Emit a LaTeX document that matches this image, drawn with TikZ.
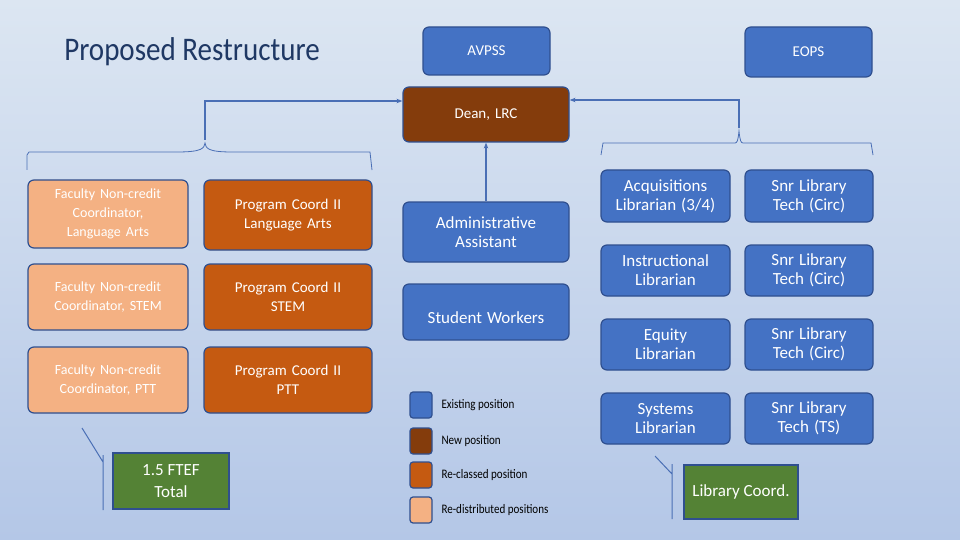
\documentclass[tikz,border=0pt]{standalone}
\usepackage{fontspec}
\setmainfont{Carlito}
\usetikzlibrary{arrows.meta}
\definecolor{bl}{HTML}{4472C4}
\definecolor{bd}{HTML}{2F4F8F}
\definecolor{br}{HTML}{843C0C}
\definecolor{orr}{HTML}{C55A11}
\definecolor{pal}{HTML}{F4B183}
\definecolor{gr}{HTML}{548235}
\definecolor{ln}{HTML}{4A6FB5}
\definecolor{bgt}{HTML}{DCE6F2}
\definecolor{bgb}{HTML}{B4C7E7}
\definecolor{ttl}{HTML}{1F3864}
\begin{document}
\begin{tikzpicture}[x=1pt,y=-1pt,
 bx/.style={draw=bd,line width=1.2pt,rounded corners=6pt,text=white,align=center,font=\fontsize{15}{19}\selectfont},
 sq/.style={draw=bd,line width=1.2pt,rounded corners=3pt,minimum width=22pt,minimum height=26pt},
 lg/.style={anchor=west,font=\fontsize{13}{15}\selectfont\addfontfeature{FakeStretch=0.85}},
 con/.style={ln,line width=1.3pt},
 brc/.style={ln,line width=0.8pt}]
\shade[top color=bgt,bottom color=bgb] (0,0) rectangle (960,540);
\useasboundingbox (0,0) rectangle (960,540);
\node[text=ttl,font=\fontsize{33}{36}\selectfont\addfontfeature{FakeStretch=0.88}] (title) at (192,52) {Proposed Restructure};
\def\bxat#1#2#3#4#5#6#7{\node[bx,fill=#6,minimum width={#4-#2},minimum height={#5-#3},text width={#4-#2-20}] (#1) at ({(#2+#4)/2},{(#3+#5)/2}) {#7};}
\bxat{avpss}{423}{27}{550}{75}{bl}{AVPSS\\[8pt]}
\bxat{eops}{745}{27}{872}{77}{bl}{EOPS}
\bxat{dean}{403}{87}{569}{142}{br}{Dean, LRC}
\bxat{f1}{28}{180}{188}{248}{pal}{\fontsize{14}{19}\selectfont Faculty Non-credit Coordinator, Language Arts}
\bxat{f2}{28}{264}{188}{330}{pal}{\fontsize{14}{19}\selectfont Faculty Non-credit\\Coordinator, STEM}
\bxat{f3}{28}{347}{188}{413}{pal}{\fontsize{14}{19}\selectfont Faculty Non-credit\\Coordinator, PTT\\[12pt]}
\bxat{p1}{204}{180}{372}{250}{orr}{Program Coord II\\Language Arts}
\bxat{p2}{204}{264}{372}{330}{orr}{Program Coord II\\STEM\\[4pt]}
\bxat{p3}{204}{347}{372}{413}{orr}{Program Coord II\\PTT\\[12pt]}
\bxat{aa}{403}{202}{569}{262}{bl}{\fontsize{17}{22}\selectfont Administrative\\Assistant}
\bxat{sw}{403}{284}{569}{340}{bl}{\fontsize{17}{22}\selectfont \\[4pt]Student Workers}
\bxat{r1}{601}{170}{730}{222}{bl}{\fontsize{17}{22}\selectfont Acquisitions Librarian (3/4)}
\bxat{s1}{745}{170}{873}{222}{bl}{\fontsize{17}{22}\selectfont Snr Library\\Tech (Circ)}
\bxat{r2}{601}{245}{730}{296}{bl}{\fontsize{17}{22}\selectfont Instructional Librarian}
\bxat{s2}{745}{245}{873}{296}{bl}{\fontsize{17}{22}\selectfont Snr Library\\Tech (Circ)}
\bxat{r3}{601}{319}{730}{370}{bl}{\fontsize{17}{22}\selectfont Equity\\Librarian}
\bxat{s3}{745}{319}{873}{370}{bl}{\fontsize{17}{22}\selectfont Snr Library\\Tech (Circ)}
\bxat{r4}{601}{393}{730}{444}{bl}{\fontsize{17}{22}\selectfont Systems\\Librarian}
\bxat{s4}{745}{393}{873}{444}{bl}{\fontsize{17}{22}\selectfont Snr Library\\Tech (TS)}
\node[draw=bd,line width=1.2pt,fill=gr,text=white,align=center,minimum width=116pt,minimum height=56pt,font=\fontsize{17}{22}\selectfont] (ftef) at (171,481) {1.5 FTEF\\Total};
\node[draw=bd,line width=1.2pt,fill=gr,text=white,minimum width=114pt,minimum height=54pt,font=\fontsize{17}{22}\selectfont] (lc) at (741,492) {Library Coord.};
% legend
\node[sq,fill=bl] (l1) at (421,405) {}; \node[lg] (t1) at (438,405) {Existing position};
\node[sq,fill=br] (l2) at (421,441) {}; \node[lg] (t2) at (438,441) {New position};
\node[sq,fill=orr] (l3) at (421,475) {}; \node[lg] (t3) at (438,475) {Re-classed position};
\node[sq,fill=pal] (l4) at (421,510) {}; \node[lg] (t4) at (438,510) {Re-distributed positions};
% connectors
\coordinate (lb) at (205,140);
\coordinate (lt) at (205,101);
\coordinate (rb) at (739,128);
\coordinate (rt) at (739,100);
\draw[con,-{Stealth[length=6pt]}] (lb) -- (lt) -- (dean.west|-lt);
\draw[con,-{Stealth[length=6pt]}] (rb) -- (rt) -- (dean.east|-rt);
\draw[con,-{Stealth[length=6pt]}] (aa.north) -- (dean.south);
% braces
\draw[brc] (27,170) -- (27,155) -- (29,152) -- (177,152) .. controls (203,152) and (204,148) .. (205,143) .. controls (206,148) and (207,152) .. (232,152) -- (370,152) -- (372,170);
\draw[brc] (601,155) -- (603,143) -- (735,143) .. controls (737,143) and (738,141) .. (739,131) .. controls (740,141) and (741,143) .. (743,143) -- (871,143) -- (873,155);
% callouts
\draw[ln,line width=1pt] (82,428) -- (103,462) (103,455) -- (103,510);
\draw[ln,line width=1pt] (655,456) -- (672,474) (672,464) -- (672,519);
\end{tikzpicture}
\end{document}
